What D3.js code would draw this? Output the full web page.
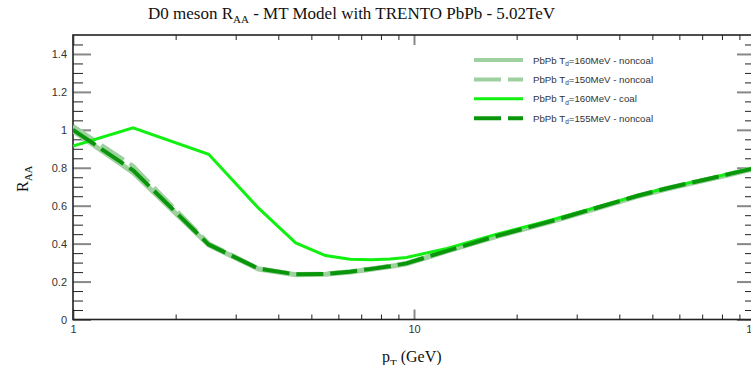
<!DOCTYPE html>
<html>
<head>
<meta charset="utf-8">
<script src="https://cdn.jsdelivr.net/npm/d3@7"></script>
<style>
  body { margin: 0; background: #fff; }
  svg { display: block; }
</style>
</head>
<body>
<div id="chart"></div>
<script>
// pT points (GeV)
var pT = [1, 1.5, 2.5, 3.5, 4.5, 5.5, 6.5, 7.5, 8.5, 9.5, 12.5, 17.5, 25, 35, 45, 55, 65, 75, 85, 95, 100];

// R_AA per model
var raa160noncoal = [0.995, 0.775, 0.393, 0.266, 0.236, 0.238, 0.250, 0.265, 0.279, 0.294, 0.360, 0.438, 0.513, 0.590, 0.648, 0.688, 0.718, 0.743, 0.766, 0.786, 0.795];
var raa150noncoal = [1.02, 0.81, 0.402, 0.270, 0.240, 0.242, 0.254, 0.269, 0.283, 0.298, 0.364, 0.443, 0.518, 0.595, 0.653, 0.693, 0.723, 0.748, 0.771, 0.791, 0.80];
var raa160coal = [0.915, 1.01, 0.871, 0.587, 0.404, 0.337, 0.318, 0.315, 0.319, 0.327, 0.375, 0.450, 0.522, 0.596, 0.653, 0.693, 0.723, 0.748, 0.771, 0.791, 0.80];
var raa155noncoal = [1.0, 0.787, 0.395, 0.268, 0.238, 0.240, 0.252, 0.267, 0.281, 0.296, 0.362, 0.441, 0.516, 0.593, 0.651, 0.691, 0.721, 0.746, 0.769, 0.789, 0.798];

var legendLabels = ["160MeV - noncoal", "150MeV - noncoal", "160MeV - coal", "155MeV - noncoal"];

var xMajor = [1, 10, 100];
var xMinor = [2, 3, 4, 5, 6, 7, 8, 9, 20, 30, 40, 50, 60, 70, 80, 90];
var yMajor = [0, 0.2, 0.4, 0.6, 0.8, 1, 1.2, 1.4];
var yMinor = [0.05, 0.1, 0.15, 0.25, 0.3, 0.35, 0.45, 0.5, 0.55, 0.65, 0.7, 0.75, 0.85, 0.9, 0.95, 1.05, 1.1, 1.15, 1.25, 1.3, 1.35, 1.45];

var svgWidth = 751;
var svgHeight = 365;

var margin = { top: 35, right: -4, bottom: 45.5, left: 73 };
var width = svgWidth - margin.left - margin.right;
var height = svgHeight - margin.top - margin.bottom;

var svg = d3.select("#chart")
  .append("svg")
  .attr("width", svgWidth)
  .attr("height", svgHeight);

var chartGroup = svg.append("g")
  .attr("transform", `translate(${margin.left}, ${margin.top})`);

var xScale = d3.scaleLog().domain([1, 100]).range([0, width]);
var yScale = d3.scaleLinear().domain([0, 1.5]).range([height, 0]);

svg.append("defs").append("clipPath").attr("id", "plotclip")
  .append("rect").attr("width", width).attr("height", height);

// axis helper
function addAxis(axis, tx, ty, color, sw) {
  var g = chartGroup.append("g")
    .attr("transform", `translate(${tx}, ${ty})`)
    .call(axis);
  g.select(".domain").remove();
  g.selectAll("line").attr("stroke", color).attr("stroke-width", sw);
  g.selectAll("text")
    .attr("fill", "#333")
    .style("font-family", "Liberation Sans, Arial, sans-serif")
    .style("font-size", "11px");
  return g;
}

// bottom
addAxis(d3.axisBottom(xScale).tickValues(xMajor).tickSize(-10).tickPadding(6).tickFormat(d3.format("d")), 0, height, "#888", 2);
addAxis(d3.axisBottom(xScale).tickValues(xMinor).tickSize(-5).tickFormat(""), 0, height, "#222", 1);
// top
addAxis(d3.axisTop(xScale).tickValues(xMajor).tickSize(-10).tickFormat(""), 0, 0, "#888", 2);
addAxis(d3.axisTop(xScale).tickValues(xMinor).tickSize(-5).tickFormat(""), 0, 0, "#222", 1);
// left
addAxis(d3.axisLeft(yScale).tickValues(yMajor).tickSize(-18).tickPadding(6).tickFormat(d3.format("")), 0, 0, "#888", 2);
addAxis(d3.axisLeft(yScale).tickValues(yMinor).tickSize(-10).tickFormat(""), 0, 0, "#222", 1);
// right
addAxis(d3.axisRight(yScale).tickValues(yMajor).tickSize(-18).tickFormat(""), width, 0, "#888", 2);
addAxis(d3.axisRight(yScale).tickValues(yMinor).tickSize(-10).tickFormat(""), width, 0, "#222", 1);

// frame
chartGroup.append("rect")
  .attr("width", width)
  .attr("height", height)
  .attr("fill", "none")
  .attr("stroke", "#222")
  .attr("stroke-width", 1.6);

var series = [
  { values: raa160noncoal, color: "#9fd09f", sw: 5, dash: null },
  { values: raa150noncoal, color: "#9fd09f", sw: 4, dash: "27,7" },
  { values: raa160coal, color: "#11f011", sw: 3, dash: null },
  { values: raa155noncoal, color: "#0a960a", sw: 4, dash: "27,7" }
];

var line = d3.line()
  .x((d, i) => xScale(pT[i]))
  .y(d => yScale(d));

var lines = chartGroup.append("g").attr("clip-path", "url(#plotclip)");
series.forEach(function(s) {
  lines.append("path")
    .datum(s.values)
    .attr("d", line)
    .attr("fill", "none")
    .attr("stroke", s.color)
    .attr("stroke-width", s.sw)
    .attr("stroke-dasharray", s.dash);
});

// legend
var legend = svg.append("g");
series.forEach(function(s, i) {
  var ly = 60 + i * 19.4;
  legend.append("line")
    .attr("x1", 474).attr("x2", 523)
    .attr("y1", ly).attr("y2", ly)
    .attr("stroke", s.color)
    .attr("stroke-width", s.sw > 4 ? 4 : s.sw)
    .attr("stroke-dasharray", s.dash);
  var t = legend.append("text")
    .attr("x", 533).attr("y", ly + 3.5)
    .attr("fill", "#333")
    .style("font-family", "Liberation Sans, Arial, sans-serif")
    .style("font-size", "9.7px");
  t.append("tspan").text("PbPb T");
  t.append("tspan").attr("dy", 2.5).style("font-size", "6.5px").text("d");
  t.append("tspan").attr("dy", -2.5).text("=" + legendLabels[i]);
});

// title
var title = svg.append("text")
  .attr("x", 148).attr("y", 19)
  .attr("fill", "#111")
  .style("font-family", "Liberation Serif, Times New Roman, serif")
  .style("font-size", "17px");
title.append("tspan").text("D0 meson R");
title.append("tspan").attr("dy", 4).style("font-size", "11px").text("AA");
title.append("tspan").attr("dy", -4).text(" - MT Model with TRENTO PbPb - 5.02TeV");

// x title (partly below the page edge, as in the original)
var xt = svg.append("text")
  .attr("x", 382).attr("y", 362)
  .attr("fill", "#111")
  .style("font-family", "Liberation Serif, Times New Roman, serif")
  .style("font-size", "16px");
xt.append("tspan").text("p");
xt.append("tspan").attr("dy", 5).style("font-size", "11px").text("T");
xt.append("tspan").attr("dy", -5).text(" (GeV)");

// y title
var yt = svg.append("text")
  .attr("transform", "translate(28, 192) rotate(-90)")
  .attr("fill", "#111")
  .style("font-family", "Liberation Serif, Times New Roman, serif")
  .style("font-size", "16px");
yt.append("tspan").text("R");
yt.append("tspan").attr("dy", 4).style("font-size", "11px").text("AA");
</script>
</body>
</html>
